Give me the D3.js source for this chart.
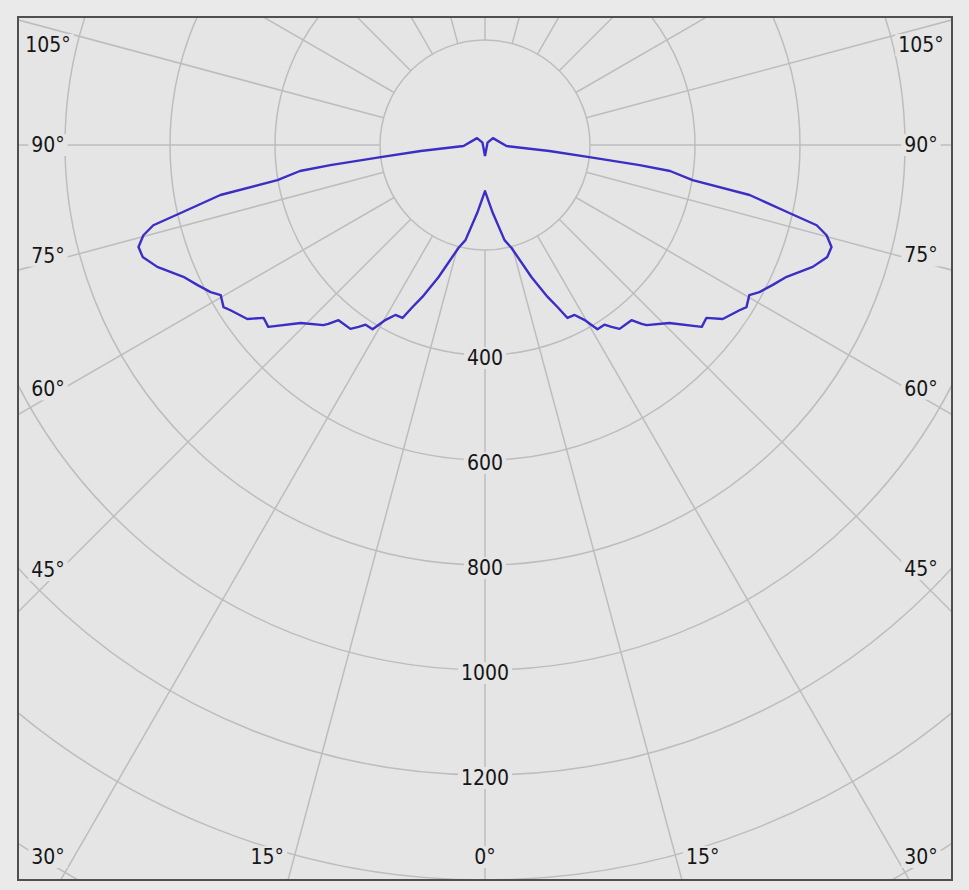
<!DOCTYPE html>
<html>
<head>
<meta charset="utf-8">
<script src="https://cdn.jsdelivr.net/npm/d3@7/dist/d3.min.js"></script>
<style>
  html, body { margin: 0; padding: 0; background: #eaeaea; }
  svg { display: block; }
  text { font-family: "DejaVu Sans Condensed", "Liberation Sans", sans-serif; font-size: 21px; fill: #161616; }
</style>
</head>
<body>
<svg id="chart" width="969" height="890"></svg>
<script>
// ---- data (one half of the symmetric intensity curve, angle from nadir in degrees, intensity in cd) ----
const curveAngles = [0, 6.5, 11.6, 14.4, 19.4, 22.4, 24.1, 25.5, 27.8, 29.6, 31.4, 33.6, 34.8, 36.2, 39.9, 41.2, 41.9,
  46.0, 50.0, 52.0, 53.8, 57.0, 58.2, 60.4, 61.8, 64.0, 66.4, 69.6, 71.9, 73.6, 75.2, 76.4, 77.4, 79.3, 80.4,
  82.0, 82.6, 83.4, 84.7, 87.3, 130.7, 132.6, 180];
const curveValues = [88, 130, 185, 202, 267, 313, 338, 365, 366, 383, 411, 411, 422, 434, 435, 453, 461,
  488, 539, 535, 561, 578, 586, 579, 593, 609, 627, 666, 686, 688, 673, 650, 594, 513, 401,
  356, 297, 200, 123, 41, 20, 6.5, -21];
const ringValues = [200, 400, 600, 800, 1000, 1200, 1400, 1600];
const ringLabels = [400, 600, 800, 1000, 1200];
const spokeAngles = d3.range(0, 360, 15);
const angleLabels = [0, 15, 30, 45, 60, 75, 90, 105];

// ---- layout ----
const frame = { x0: 18, y0: 17, x1: 952, y1: 880 };
const cx = 485, cy = 145;
const r = d3.scaleLinear().domain([0, 1600]).range([0, 840]);
const labelBox = { x0: 48, x1: 921, y0: 45, y1: 857 };
const plotBg = "#e5e5e5";
const gridColor = "#bdbdbd";

const svg = d3.select("#chart");
svg.append("defs").append("clipPath").attr("id", "clip")
  .append("rect").attr("x", frame.x0).attr("y", frame.y0)
  .attr("width", frame.x1 - frame.x0).attr("height", frame.y1 - frame.y0);

svg.append("rect").attr("x", frame.x0).attr("y", frame.y0)
  .attr("width", frame.x1 - frame.x0).attr("height", frame.y1 - frame.y0)
  .attr("fill", plotBg);

const plot = svg.append("g").attr("clip-path", "url(#clip)");
const g = plot.append("g").attr("transform", `translate(${cx},${cy})`);

// rings
g.selectAll("circle.ring").data(ringValues).join("circle")
  .attr("class", "ring")
  .attr("r", d => r(d))
  .attr("fill", "none").attr("stroke", gridColor).attr("stroke-width", 1.5);

// spokes (from the innermost ring outward)
const rad = d => d * Math.PI / 180;
g.selectAll("line.spoke").data(spokeAngles).join("line")
  .attr("class", "spoke")
  .attr("x1", d => r(ringValues[0]) * Math.sin(rad(d)))
  .attr("y1", d => r(ringValues[0]) * Math.cos(rad(d)))
  .attr("x2", d => r(2400) * Math.sin(rad(d)))
  .attr("y2", d => r(2400) * Math.cos(rad(d)))
  .attr("stroke", gridColor).attr("stroke-width", 1.5);

// label helper with background
function addLabel(parent, x, y, txt) {
  const grp = parent.append("g");
  const bg = grp.append("rect").attr("fill", plotBg);
  const t = grp.append("text").attr("x", x).attr("y", y)
    .attr("text-anchor", "middle").attr("dominant-baseline", "central").text(txt);
  const bb = t.node().getBBox();
  bg.attr("x", bb.x - 3).attr("y", bb.y + 1).attr("width", bb.width + 6).attr("height", bb.height - 2);
}

// ring value labels along nadir
ringLabels.forEach(v => addLabel(plot, cx, cy + r(v) + 3, String(v)));

// angle labels: bottom edge for steep angles, side edges otherwise
const clamp = (v, lo, hi) => Math.max(lo, Math.min(hi, v));
angleLabels.forEach(a => {
  const sides = a === 0 ? [1] : [1, -1];
  sides.forEach(s => {
    let x, y;
    if (a <= 30) {
      const aa = a === 0 ? 0 : a + 2.0;
      y = labelBox.y1;
      x = clamp(cx + s * (labelBox.y1 - cy) * Math.tan(rad(aa)), labelBox.x0, labelBox.x1);
    } else {
      const aa = a === 90 ? 90 : (a < 90 ? a + 0.8 : a - 0.8);
      x = s > 0 ? labelBox.x1 : labelBox.x0;
      const d = s > 0 ? labelBox.x1 - cx : cx - labelBox.x0;
      y = clamp(cy + d / Math.tan(rad(aa)), labelBox.y0, labelBox.y1);
    }
    addLabel(plot, x, y, a + "°");
  });
});

// intensity curve (mirrored halves)
const half = curveAngles.map((a, i) => ({ a, v: curveValues[i] }));
const pts = half.slice().reverse().map(d => ({ ang: Math.PI - rad(d.a), v: d.v }))   // right side: 180 -> 0
  .concat(half.map(d => ({ ang: Math.PI + rad(d.a), v: d.v })));                   // left side: 0 -> 180
const line = d3.lineRadial().angle(d => d.ang).radius(d => r(d.v)).curve(d3.curveLinear);
g.append("path").attr("d", line(pts))
  .attr("fill", "none").attr("stroke", "#3a2ec4").attr("stroke-width", 2.4)
  .attr("stroke-linejoin", "round");

// frame
svg.append("rect").attr("x", frame.x0).attr("y", frame.y0)
  .attr("width", frame.x1 - frame.x0).attr("height", frame.y1 - frame.y0)
  .attr("fill", "none").attr("stroke", "#505050").attr("stroke-width", 2);
</script>
</body>
</html>
